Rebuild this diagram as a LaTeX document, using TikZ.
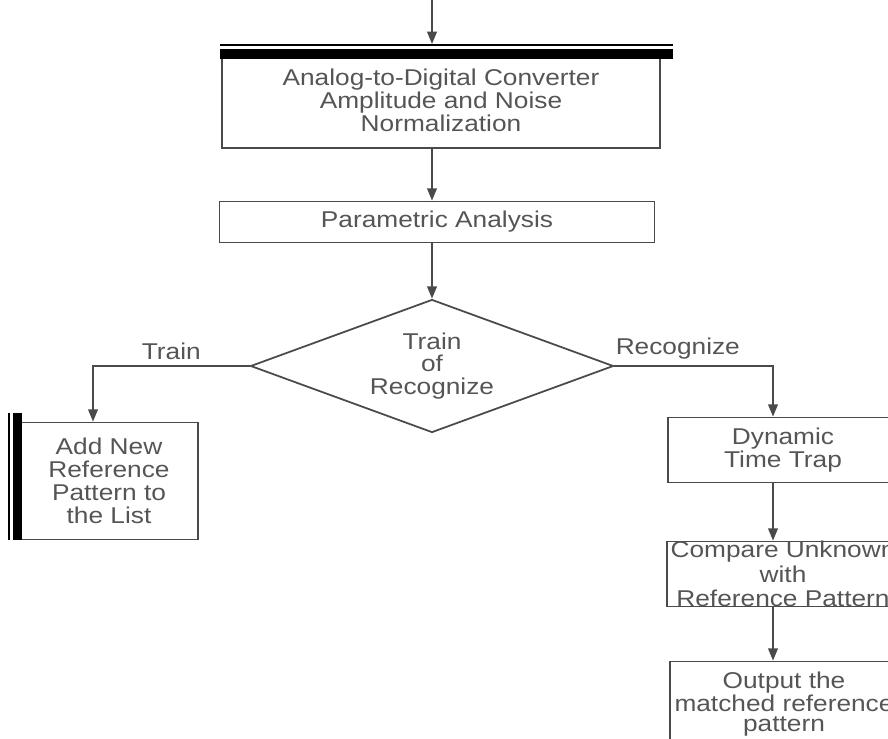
\documentclass[tikz,border=0pt]{standalone}
\usepackage{fontspec}
\setmainfont{Liberation Sans}[FakeStretch=1.15]
\usepackage{tikz}
\usetikzlibrary{shapes.geometric,arrows.meta}
\definecolor{inkgray}{HTML}{4A4A4A}
\definecolor{txtgray}{HTML}{555555}

\begin{document}
\begin{tikzpicture}[x=0.02cm,y=-0.02cm,
  box/.style={draw=inkgray,line width=1pt,text=txtgray,align=center,
    font=\fontsize{13}{13}\selectfont,inner sep=2pt},
  decide/.style={box,shape=diamond,aspect=2.73,inner sep=0pt},
  flow/.style={draw=inkgray,line width=1pt,-{Triangle[length=7pt,width=5.5pt]}},
  lbl/.style={text=txtgray,font=\fontsize{13}{13}\selectfont}]
\useasboundingbox (0,0) rectangle (888,738);
\clip (0,0) rectangle (888,738);
% Colonne dei connettori
\coordinate (src) at (432,0);
\coordinate (bartop) at (432,44);
\coordinate (lcol) at (93,0);
\coordinate (rcol) at (773,0);
% Blocchi principali
\node[box,minimum width=8.76cm,minimum height=1.92cm] (adc) at (441,100) {Analog-to-Digital Converter\\Amplitude and Noise\\Normalization};
\node[box,minimum width=8.7cm,minimum height=0.82cm] (prm) at (437,222) {Parametric Analysis};
\node[decide,minimum width=7.26cm,minimum height=2.66cm] (dec) at (432,366) {Train\\of\\Recognize};
\node[box,minimum width=3.56cm,minimum height=2.34cm] (add) at (109,481) {Add New\\Reference\\Pattern to\\the List};
% Ramo di riconoscimento
\node[box,minimum width=4.6cm,minimum height=1.3cm] (dtw) at (783,450) {Dynamic\\Time Trap};
\node[box,minimum width=4.6cm,minimum height=1.3cm,inner ysep=-4pt,font=\fontsize{13}{14}\selectfont] (cmp) at (783,574) {Compare Unknown\\with\\Reference Pattern};
\node[box,minimum width=4.56cm,minimum height=1.7cm,font=\fontsize{13}{11}\selectfont] (out) at (784,704) {Output the\\matched reference\\pattern};
% Barre nere della scansione
\draw[line width=0.6pt] (220,45) -- (673,45);
\fill (220,48.5) rectangle (673,59);
\draw[line width=0.6pt] (9,413) -- (9,540);
\fill (12.5,413) rectangle (22,540);
% Frecce
\draw[flow] (src) -- (bartop);
\draw[flow] (adc.south -| src) -- (prm.north -| src);
\draw[flow] (prm.south -| dec.north) -- (dec.north);
\draw[flow] (dec.west) -| node[lbl,pos=0.25,above]{Train} (add.north -| lcol);
\draw[flow] (dec.east) -| node[lbl,pos=0.2,above]{Recognize} (dtw.north -| rcol);
\draw[flow] (dtw.south -| rcol) -- (cmp.north -| rcol);
\draw[flow] (cmp.south -| rcol) -- (out.north -| rcol);
\end{tikzpicture}
\end{document}
